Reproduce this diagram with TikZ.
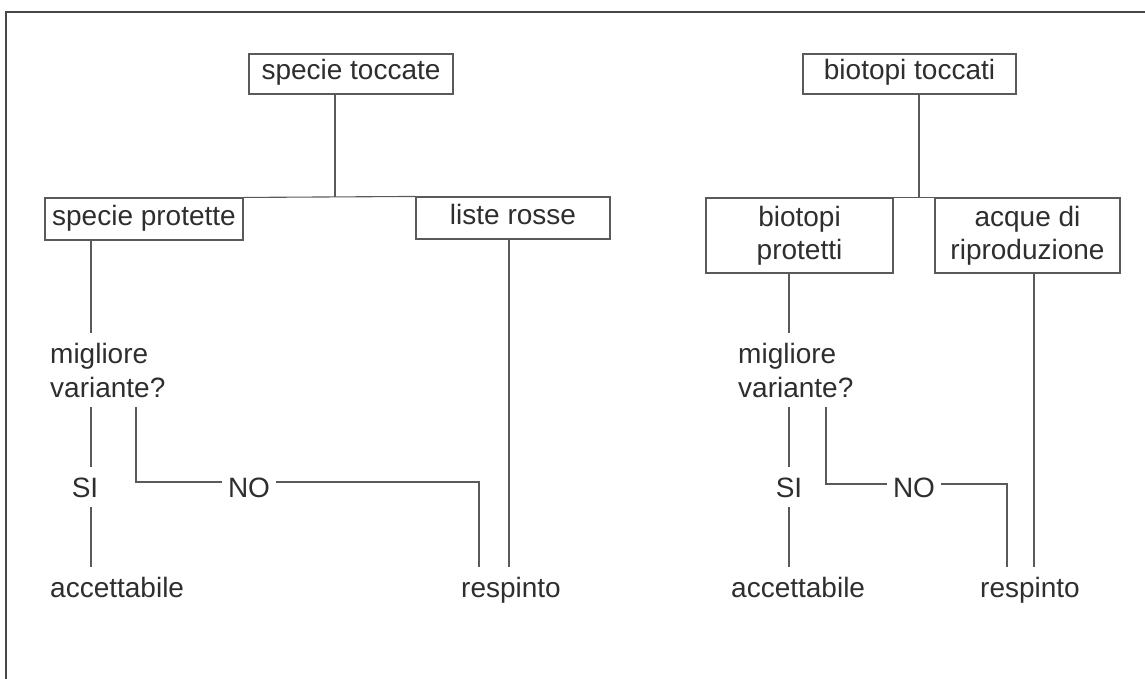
\documentclass[tikz,border=0pt]{standalone}
\usepackage{fontspec}
\setmainfont{Liberation Sans}
\definecolor{ink}{HTML}{2E2E2E}
\definecolor{ln}{HTML}{5A5A5A}
\definecolor{fr}{HTML}{474747}
\begin{document}
\begin{tikzpicture}[x=1pt,y=-1pt,
  box/.style={draw=ln, line width=1.1pt, inner sep=0pt, text=ink,
    font=\fontsize{28}{33}\selectfont, text height=19pt, text depth=7pt},
  boxtwo/.style={draw=ln, line width=1.1pt, inner sep=0pt, text=ink,
    font=\fontsize{28}{33}\selectfont, align=center},
  lbl/.style={inner xsep=0pt, inner ysep=10pt, text=ink,
    font=\fontsize{28}{34}\selectfont},
  nolbl/.style={inner xsep=6pt, inner ysep=10pt, text=ink,
    font=\fontsize{28}{34}\selectfont},
  conn/.style={draw=ln, line width=1.1pt},
  framestyle/.style={draw=fr, line width=2pt}]
\useasboundingbox (0,0) rectangle (1145,679);
% frame
\coordinate (f1) at (6,679);
\coordinate (f2) at (6,12);
\coordinate (f3) at (1145,12);
\draw[framestyle] (f1) -- (f2) -- (f3);

% ---------- left panel ----------
\node[box, minimum width=204pt, minimum height=40pt] (st) at (351,74) {specie toccate};
\node[box, minimum width=198pt, minimum height=42pt] (sp) at (144,219) {specie protette};
\node[box, minimum width=194pt, minimum height=42pt] (lr) at (513,218) {liste rosse};
\node[lbl, anchor=base west, align=left] (mvL) at (50,397) {migliore\\variante?};
\node[lbl, anchor=base] (siL) at (85,497) {SI};
\node[nolbl, anchor=base] (noL) at (249,497) {NO};
\node[lbl, anchor=base west] (acL) at (50,597) {accettabile};
\node[lbl, anchor=base] (reL) at (511,597) {respinto};

\coordinate (jL) at (335,197);
\coordinate (xL) at (91,0);
\coordinate (cL1) at (136,482);
\coordinate (cL2) at (479,482);
\coordinate (xLr) at (509,0);

\draw[conn] (sp.north east) -- (lr.north west);
\draw[conn] (st.south -| jL) -- (jL);
\draw[conn] (sp.south -| xL) -- (mvL.north -| xL);
\draw[conn] (mvL.south -| xL) -- (siL.north -| xL);
\draw[conn] (siL.south -| xL) -- (acL.north -| xL);
\draw[conn] (mvL.south -| cL1) -- (cL1) -- (noL.west |- cL1);
\draw[conn] (noL.east |- cL2) -- (cL2) -- (cL2 |- reL.north);
\draw[conn] (lr.south -| xLr) -- (reL.north -| xLr);

% ---------- right panel ----------
\node[box, minimum width=213pt, minimum height=40pt] (bt) at (909.5,74) {biotopi toccati};
\node[boxtwo, minimum width=187pt, minimum height=75pt] (bp) at (799.5,235.5) {biotopi\\protetti};
\node[boxtwo, minimum width=185pt, minimum height=75pt] (aq) at (1027.5,235.5) {acque di\\riproduzione};
\node[lbl, anchor=base west, align=left] (mvR) at (738,397) {migliore\\variante?};
\node[lbl, anchor=base] (siR) at (789,497) {SI};
\node[nolbl, anchor=base] (noR) at (914,497) {NO};
\node[lbl, anchor=base west] (acR) at (731,597) {accettabile};
\node[lbl, anchor=base] (reR) at (1030,597) {respinto};

\coordinate (jR) at (919,197);
\coordinate (xR) at (789,0);
\coordinate (cR1) at (826,484);
\coordinate (cR2) at (1007,484);
\coordinate (xRa) at (1034,0);

\draw[conn] (bp.north east) -- (aq.north west);
\draw[conn] (bt.south -| jR) -- (jR);
\draw[conn] (bp.south -| xR) -- (mvR.north -| xR);
\draw[conn] (mvR.south -| xR) -- (siR.north -| xR);
\draw[conn] (siR.south -| xR) -- (acR.north -| xR);
\draw[conn] (mvR.south -| cR1) -- (cR1) -- (noR.west |- cR1);
\draw[conn] (noR.east |- cR2) -- (cR2) -- (cR2 |- reR.north);
\draw[conn] (aq.south -| xRa) -- (reR.north -| xRa);
\end{tikzpicture}
\end{document}
